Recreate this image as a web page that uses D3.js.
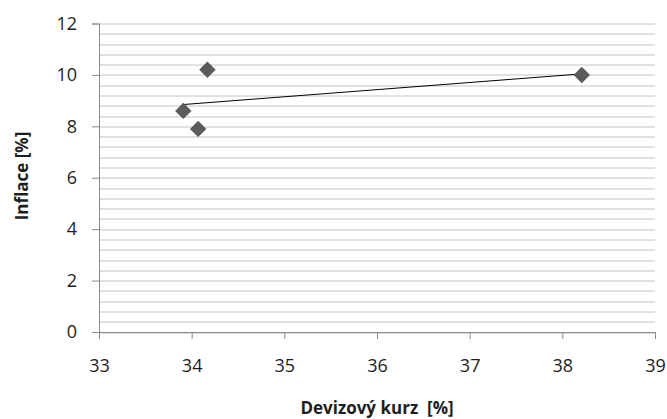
<!DOCTYPE html>
<head>
  <meta charset="utf-8">
  <title>Inflace vs devizový kurz</title>
  <style>
    body { margin: 0; background: #fff; }
    text { font-family: "Open Sans", "DejaVu Sans", sans-serif; fill: #1e1e1e; }
  </style>
</head>
<body>
  <svg id="chart" width="667" height="419"></svg>
  <script src="https://cdn.jsdelivr.net/npm/d3@7"></script>
  <script>
    // data
    var kurz = [33.91, 34.07, 34.17, 38.21];
    var inflace = [8.6, 7.9, 10.2, 10.0];
    var xTicks = [33, 34, 35, 36, 37, 38, 39];
    var yTicks = [0, 2, 4, 6, 8, 10, 12];

    var svg = d3.select("#chart"),
        margin = {top: 23.5, right: 12, bottom: 87, left: 99},
        width = +svg.attr("width") - margin.left - margin.right,
        height = +svg.attr("height") - margin.top - margin.bottom,
        g = svg.append("g").attr("transform", "translate(" + margin.left + "," + margin.top + ")");

    var x = d3.scaleLinear().domain([33, 39]).range([0, width]);
    var y = d3.scaleLinear().domain([0, 12]).range([height, 0]);

    // minor gridlines every 0.4
    var minor = d3.range(0, 12.001, 0.4);
    g.append("g").selectAll("line")
      .data(minor)
      .enter().append("line")
      .attr("x1", 0).attr("x2", width)
      .attr("y1", function(d) { return Math.round(y(d)) + 0.5; })
      .attr("y2", function(d) { return Math.round(y(d)) + 0.5; })
      .attr("stroke", "#c2c2c2")
      .attr("stroke-width", 1);

    // y axis
    var yAxis = g.append("g")
      .call(d3.axisLeft(y).tickValues(yTicks).tickSize(7).tickPadding(15).tickFormat(d3.format("d")));
    yAxis.selectAll("line, path").attr("stroke", "#8a8a8a");
    yAxis.selectAll("text").style("font-size", "18px");

    // x axis
    var xAxis = g.append("g")
      .attr("transform", "translate(0," + height + ")")
      .call(d3.axisBottom(x).tickValues(xTicks).tickSize(7).tickPadding(20).tickFormat(d3.format("d")));
    xAxis.selectAll("line, path").attr("stroke", "#8a8a8a");
    xAxis.selectAll("text").style("font-size", "18px");

    // linear trendline (least squares) over the x range of the points
    var mx = d3.mean(kurz), my = d3.mean(inflace);
    var sxy = d3.sum(kurz, function(d, i) { return (d - mx) * (inflace[i] - my); });
    var sxx = d3.sum(kurz, function(d) { return (d - mx) * (d - mx); });
    var slope = sxy / sxx, icpt = my - slope * mx;
    var xr = d3.extent(kurz);
    g.append("line")
      .attr("x1", x(xr[0])).attr("y1", y(icpt + slope * xr[0]))
      .attr("x2", x(xr[1])).attr("y2", y(icpt + slope * xr[1]))
      .attr("stroke", "#000")
      .attr("stroke-width", 1);

    // diamond markers
    var diamond = d3.symbol().type(d3.symbolSquare).size(135);
    g.append("g").selectAll("path")
      .data(kurz)
      .enter().append("path")
      .attr("d", diamond)
      .attr("transform", function(d, i) {
        return "translate(" + x(d) + "," + y(inflace[i]) + ") rotate(45)";
      })
      .attr("fill", "#5b5b5b");

    // axis titles
    svg.append("text")
      .attr("x", margin.left + width / 2)
      .attr("y", 414)
      .attr("text-anchor", "middle")
      .attr("xml:space", "preserve")
      .style("font-size", "17px")
      .style("font-weight", "bold")
      .text("Devizový kurz  [%]");

    svg.append("text")
      .attr("transform", "translate(28,176) rotate(-90)")
      .attr("text-anchor", "middle")
      .style("font-size", "17px")
      .style("font-weight", "bold")
      .text("Inflace [%]");
  </script>
</body>
